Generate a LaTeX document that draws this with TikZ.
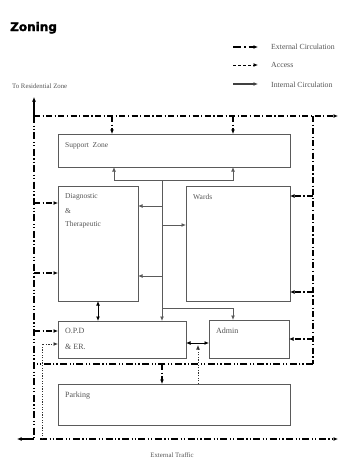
\documentclass[tikz,border=0pt]{standalone}
\usepackage{fontspec}
\setmainfont{Liberation Serif}
\newfontfamily\titlefont[BoldFeatures={FakeBold=2}]{DejaVu Sans}
\usetikzlibrary{arrows.meta}
\definecolor{boxgray}{HTML}{5A5A5A}
\definecolor{txtgray}{HTML}{555555}
\tikzset{
  zone/.style={draw=boxgray, line width=0.9pt, inner sep=0pt, outer sep=0pt, anchor=north west},
  lbl/.style={text=txtgray, font=\fontsize{7.5}{9}\selectfont, inner sep=0pt, anchor=west},
  legtxt/.style={text=txtgray, font=\fontsize{7.8}{9}\selectfont, inner sep=0pt, anchor=west},
  tip/.style={-{Latex[length=4.5pt,width=4pt]}},
  dtip/.style={{Latex[length=4.5pt,width=4pt]}-{Latex[length=4.5pt,width=4pt]}},
  ext/.style={black, line width=1.3pt, dash pattern=on 6pt off 2.5pt on 1.2pt off 2.5pt},
  extb/.style={black, line width=1.3pt, dash pattern=on 7pt off 2.5pt on 1.2pt off 2pt on 1.2pt off 2.5pt},
  acc/.style={black!80, line width=1pt, dash pattern=on 1.3pt off 1.3pt},
  int/.style={boxgray, line width=0.9pt}
}
\begin{document}
\begin{tikzpicture}[x=1pt,y=-1pt]
\clip (0,0) rectangle (339,461);
\useasboundingbox (0,0) rectangle (339,461);
\fill[white] (0,0) rectangle (339,461);

% heading and legend
\node[font=\titlefont\bfseries\fontsize{12}{14}\selectfont, anchor=base west, inner sep=0pt] (title) at (10,31) {Zoning};
\coordinate (l1a) at (233,47); \coordinate (l1b) at (258,47);
\coordinate (l2a) at (233,65); \coordinate (l2b) at (258,65);
\coordinate (l3a) at (233,84); \coordinate (l3b) at (258,84);
\draw[black, line width=1.2pt, dash pattern=on 8pt off 3pt on 1.5pt off 3pt, tip] (l1a) -- (l1b);
\draw[black, line width=1pt, dash pattern=on 3pt off 2pt, tip] (l2a) -- (l2b);
\draw[black!75, line width=1.2pt, tip] (l3a) -- (l3b);
\node[legtxt] (lg1) at (271,47) {External Circulation};
\node[legtxt] (lg2) at (271,65) {Access};
\node[legtxt] (lg3) at (271,85) {Internal Circulation};
\node[lbl, font=\fontsize{6.8}{8}\selectfont] (res) at (12,86) {To Residential Zone};
\node[lbl, font=\fontsize{6.8}{8}\selectfont, anchor=center] (traffic) at (172,455) {External Traffic};

% zones
\node[zone, minimum width=232pt, minimum height=33pt] (sz) at (58,134) {};
\node[zone, minimum width=80pt, minimum height=115pt] (dt) at (58,186) {};
\node[zone, minimum width=104pt, minimum height=115pt] (wd) at (186,186) {};
\node[zone, minimum width=128pt, minimum height=37pt] (op) at (58,321) {};
\node[zone, minimum width=80pt, minimum height=38pt] (ad) at (209,320) {};
\node[zone, minimum width=232pt, minimum height=41pt] (pk) at (58,384) {};

\node[lbl] (szt) at (65,146) {Support\ \ Zone};
\node[lbl] (dt1) at (65,197) {Diagnostic};
\node[lbl] (dt2) at (65,211) {\&};
\node[lbl] (dt3) at (65,225) {Therapeutic};
\node[lbl] (wdt) at (193,197) {Wards};
\node[lbl, font=\fontsize{8}{9}\selectfont] (op1) at (65,331) {O.P.D};
\node[lbl, font=\fontsize{8}{9}\selectfont] (op2) at (65,347) {\& ER.};
\node[lbl, font=\fontsize{8}{9}\selectfont] (adt) at (216,331) {Admin};
\node[lbl, font=\fontsize{8}{9}\selectfont] (pkt) at (65,396) {Parking};

% external circulation frame
\coordinate (tl) at (34,116);
\coordinate (tr) at (313,116);
\coordinate (topend) at (338,116);
\coordinate (upend) at (34,97);
\coordinate (bl) at (34,439);
\coordinate (blend) at (17,439);
\coordinate (bstart) at (40,439);
\coordinate (bend) at (338,439);
\coordinate (mr) at (313,364);
\coordinate (ml) at (34,364);

\draw[black, line width=1.3pt, tip] (tl) -- (upend);
\draw[ext, tip] (tl) -- (topend);
\draw[extb] (tl) -- (bl);
\draw[black, line width=1.3pt, tip] (bl) -- (blend);
\draw[extb, tip] (bstart) -- (bend);
\draw[ext] (tr) -- (mr);
\draw[extb] (mr) -- (ml);

\draw[ext, tip] (sz.north -| 112,0) ++(0,-18) -- (sz.north -| 112,0);
\draw[ext, tip] (sz.north -| 233,0) ++(0,-18) -- (sz.north -| 233,0);
\draw[ext, tip] (tl |- 0,203) -- (dt.west |- 0,203);
\draw[ext, tip] (tl |- 0,273) -- (dt.west |- 0,273);
\draw[ext, tip] (tl |- 0,331) -- (op.west |- 0,331);
\draw[ext, tip] (tr |- 0,196) -- (wd.east |- 0,196);
\draw[ext, tip] (tr |- 0,292) -- (wd.east |- 0,292);
\draw[ext, tip] (tr |- 0,339) -- (ad.east |- 0,339);
\draw[ext, tip] (ml -| 162,0) -- (pk.north -| 162,0);

% access
\draw[acc, tip] (42,439) -- (42,344) -- (op.west |- 0,344);
\draw[acc, tip] (pk.north -| 198,0) -- (198,345);

% internal circulation
\coordinate (ia) at (114,180);
\coordinate (ib) at (233,180);
\coordinate (ic) at (162,180);
\coordinate (id) at (162,308);
\coordinate (ie) at (233,308);
\draw[int, tip] (ia) -- (sz.south -| ia);
\draw[int, tip] (ia) -- (ib) -- (sz.south -| ib);
\draw[int, tip] (ic) -- (op.north -| ic);
\draw[int, tip] (ic |- 0,206) -- (dt.east |- 0,206);
\draw[int, tip] (ic |- 0,225) -- (wd.west |- 0,225);
\draw[int, tip] (ic |- 0,276) -- (dt.east |- 0,276);
\draw[int, tip] (id) -- (ie) -- (ad.north -| ie);
\draw[black, line width=1pt, dtip] (dt.south -| 98,0) -- (op.north -| 98,0);
\draw[black, line width=1pt, dtip] (op.east |- 0,343) -- (ad.west |- 0,343);
\end{tikzpicture}
\end{document}
